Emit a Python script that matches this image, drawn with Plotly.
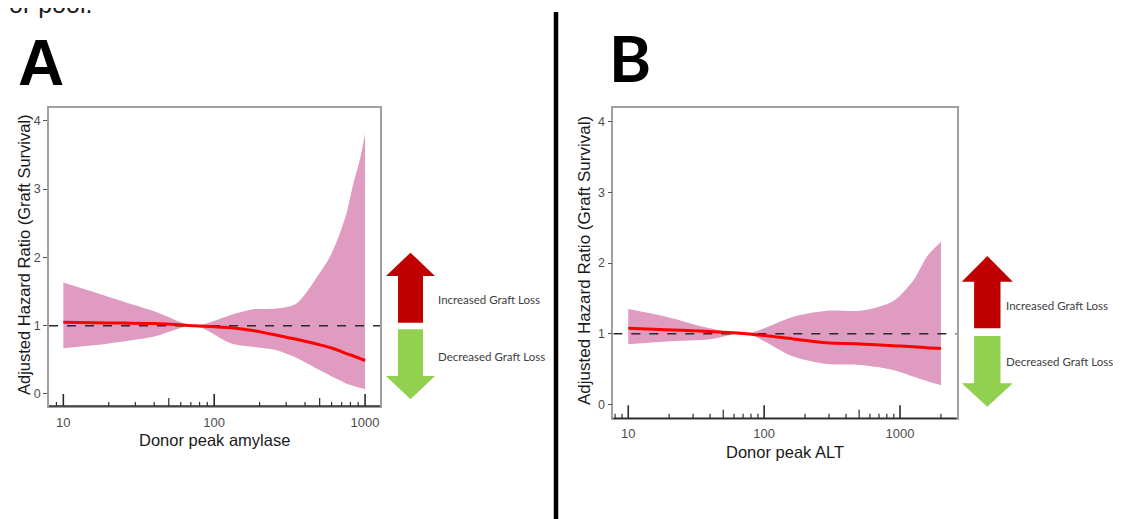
import numpy as np
import plotly.graph_objects as go

W, H = 1121, 519
OFF = 8  # page body margin compensation

# ---------------- data ----------------
amylase_x = [10, 20, 40, 74, 130, 180, 260, 350, 500, 585, 680, 753, 830, 922, 1000]
amylase_fit = [1.05, 1.04, 1.03, 1.00, 0.97, 0.93, 0.86, 0.80, 0.72, 0.68, 0.63, 0.59, 0.56, 0.52, 0.49]
amylase_upper = [1.63, 1.42, 1.21, 1.00, 1.16, 1.24, 1.25, 1.32, 1.77, 2.01, 2.35, 2.64, 3.05, 3.42, 3.81]
amylase_lower = [0.67, 0.74, 0.84, 1.00, 0.74, 0.69, 0.64, 0.53, 0.35, 0.27, 0.20, 0.15, 0.12, 0.09, 0.07]

alt_x = [10, 19, 40, 74, 164, 288, 508, 890, 1260, 1575, 2000]
alt_fit = [1.075, 1.055, 1.03, 1.00, 0.925, 0.87, 0.855, 0.83, 0.815, 0.80, 0.79]
alt_upper = [1.35, 1.24, 1.075, 1.00, 1.24, 1.325, 1.325, 1.46, 1.76, 2.09, 2.30]
alt_lower = [0.85, 0.89, 0.92, 1.00, 0.675, 0.57, 0.557, 0.486, 0.39, 0.33, 0.27]

x_tick_vals = [10, 100, 1000]
y_tick_vals = [0, 1, 2, 3, 4]
reference_hr = 1.0

xA_range = [0.905, 3.099]
yA_range = [-0.176, 4.186]
xB_range = [0.89, 3.417]
yB_range = [-0.198, 4.198]

# ---------------- styles ----------------
BAND = "rgb(223,155,192)"
FIT = "#FF0000"
AXIS_FONT = "Liberation Sans"


def px(x, y):
    return (x - OFF) / W, 1 - (y - OFF) / H


def dom_x(a, b):
    return [px(a, 0)[0], px(b, 0)[0]]


def dom_y(top, bottom):
    return [px(0, bottom)[1], px(0, top)[1]]


fig = go.Figure()


def add_panel(xs, lo, up, fit, xa, ya, xrange):
    fig.add_trace(go.Scatter(x=xs, y=lo, mode="lines", line=dict(width=0, shape="spline", smoothing=0.8),
                             xaxis=xa, yaxis=ya, showlegend=False, hoverinfo="skip"))
    fig.add_trace(go.Scatter(x=xs, y=up, mode="lines", line=dict(width=0, shape="spline", smoothing=0.8),
                             fill="tonexty", fillcolor=BAND,
                             xaxis=xa, yaxis=ya, showlegend=False, hoverinfo="skip"))
    fig.add_trace(go.Scatter(x=[10 ** xrange[0], 10 ** xrange[1]], y=[reference_hr, reference_hr], mode="lines",
                             line=dict(color="#2b2b2b", width=1.5, dash="dash"),
                             xaxis=xa, yaxis=ya, showlegend=False, hoverinfo="skip", cliponaxis=False))
    fig.add_trace(go.Scatter(x=xs, y=fit, mode="lines", line=dict(color=FIT, width=3, shape="spline", smoothing=0.8),
                             xaxis=xa, yaxis=ya, showlegend=False))


add_panel(amylase_x, amylase_lower, amylase_upper, amylase_fit, "x", "y", xA_range)
add_panel(alt_x, alt_lower, alt_upper, alt_fit, "x2", "y2", xB_range)

ax_common = dict(type="log", showgrid=False, zeroline=False, showline=True, mirror=True,
                 linecolor="#a0a0a0", linewidth=1.5, tickvals=x_tick_vals,
                 ticktext=[str(v) for v in x_tick_vals], ticks="outside",
                 tickcolor="rgba(0,0,0,0)", tickfont=dict(family=AXIS_FONT, size=13, color="#4d4d4d"))
ay_common = dict(showgrid=False, zeroline=False, showline=True, mirror=True,
                 linecolor="#a0a0a0", linewidth=1.5, tickvals=y_tick_vals, ticks="outside",
                 ticklen=4, tickcolor="#555", tickfont=dict(family=AXIS_FONT, size=12.5, color="#4d4d4d"))

fig.update_layout(
    width=W, height=H, margin=dict(l=0, r=0, t=0, b=0),
    paper_bgcolor="white", plot_bgcolor="white",
    xaxis=dict(domain=dom_x(49, 380), range=xA_range, anchor="y", ticklen=4, **ax_common),
    yaxis=dict(domain=dom_y(108, 406), range=yA_range, anchor="x", **ay_common),
    xaxis2=dict(domain=dom_x(613.3, 956.7), range=xB_range, anchor="y2", ticklen=2, **ax_common),
    yaxis2=dict(domain=dom_y(107.7, 418.3), range=yB_range, anchor="x2", **ay_common),
)

shapes = []
# log ticks drawn inside along the bottom
for xref, yref, xrange, lens in [("x", "y domain", xA_range, (12, 8, 4)), ("x2", "y2 domain", xB_range, (13, 8.5, 4.5))]:
    for dec in [1, 10, 100, 1000]:
        for m in range(1, 10):
            v = m * dec
            lv = np.log10(v)
            if lv < xrange[0] or lv > xrange[1]:
                continue
            L = lens[0] if m == 1 else (lens[1] if m == 5 else lens[2])
            shapes.append(dict(type="line", xref=xref, yref=yref, ysizemode="pixel", yanchor=0,
                               x0=v, x1=v, y0=0, y1=L,
                               line=dict(color="#2b2b2b", width=1.6 if m == 1 else 1.2)))
    shapes.append(dict(type="line", xref=xref + " domain", yref=yref, x0=0, x1=1, y0=0, y1=0,
                       line=dict(color="#2b2b2b", width=1.5)))

# divider
x0, y0 = px(556, 12)
shapes.append(dict(type="line", xref="paper", yref="paper", x0=x0, x1=x0, y0=y0, y1=0,
                   line=dict(color="black", width=4.5)))


def arrow(cx, tip, base, end, hw, sw, color):
    pts = [(cx, tip), (cx + hw, base), (cx + sw, base), (cx + sw, end),
           (cx - sw, end), (cx - sw, base), (cx - hw, base)]
    p = [px(a, b) for a, b in pts]
    path = "M " + " L ".join(f"{a:.5f},{b:.5f}" for a, b in p) + " Z"
    return dict(type="path", xref="paper", yref="paper", path=path,
                fillcolor=color, line=dict(width=0))


RED = "#C00000"
GREEN = "#92D050"
shapes.append(arrow(410.5, 252.7, 276, 322.7, 24.5, 12.5, RED))
shapes.append(arrow(410.5, 399.3, 376, 329.3, 24.5, 12.5, GREEN))
shapes.append(arrow(987.3, 256, 281.7, 328.3, 25.5, 13.2, RED))
shapes.append(arrow(987.3, 406.7, 383.3, 336, 25.5, 13.2, GREEN))
fig.update_layout(shapes=shapes)

ann = []


def text(x, y, s, size, family="Liberation Sans", color="#1a1a1a", xanchor="center", yanchor="middle",
         angle=0, bold=False):
    a, b = px(x, y)
    ann.append(dict(xref="paper", yref="paper", x=a, y=b, text=f"<b>{s}</b>" if bold else s,
                    showarrow=False, xanchor=xanchor, yanchor=yanchor, textangle=angle,
                    font=dict(family=family, size=size, color=color)))


text(24, 255, "Adjusted Hazard Ratio (Graft Survival)", 16.5, angle=-90)
text(584, 261, "Adjusted Hazard Ratio (Graft Survival)", 17, angle=-90)
text(214.5, 440, "Donor peak amylase", 16.5)
text(785, 451.7, "Donor peak ALT", 16.5)
text(436, 299, "Increased Graft Loss", 11.5, family="Lato", color="#404040", xanchor="left")
text(436, 356.7, "Decreased Graft Loss", 11.5, family="Lato", color="#404040", xanchor="left")
text(1004, 305, "Increased Graft Loss", 11.5, family="Lato", color="#404040", xanchor="left")
text(1004, 361.7, "Decreased Graft Loss", 11.5, family="Lato", color="#404040", xanchor="left")
text(41, 63.5, "A", 64, color="black", bold=True)
text(630, 57.5, "B", 64, family="Lato", color="black", bold=True)
text(7, 20, "or pool.", 25, color="#1a1a1a", xanchor="left", yanchor="bottom")
fig.update_layout(annotations=ann)

fig.write_html("out.html")
